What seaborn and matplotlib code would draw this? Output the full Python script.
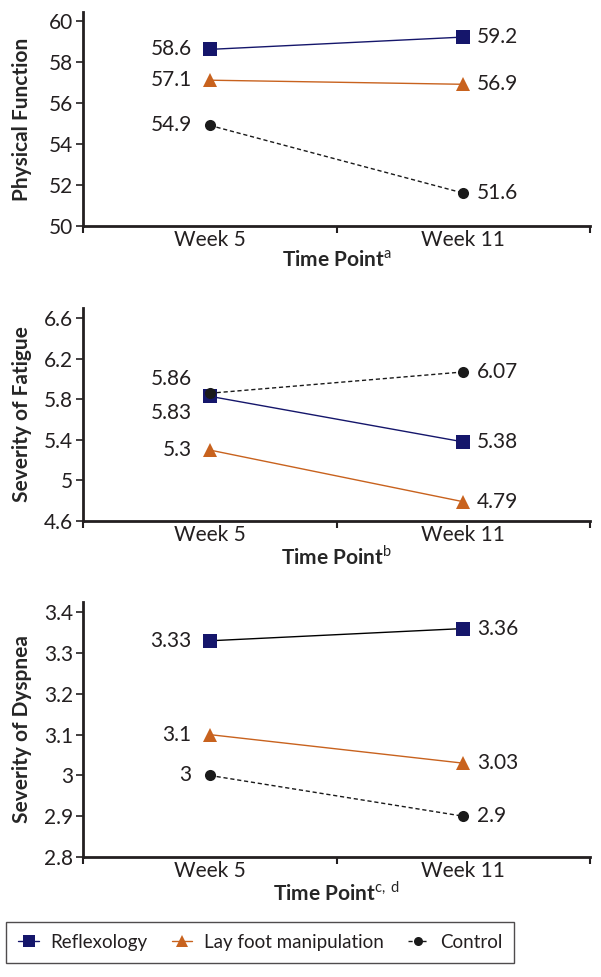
import matplotlib
matplotlib.use("Agg")
import matplotlib.pyplot as plt
import pandas as pd
import seaborn as sns

# data
time_points = ["Week 5", "Week 11"]
groups = ["Reflexology", "Lay foot manipulation", "Control"]

physical_reflex = [58.6, 59.2]
physical_lay = [57.1, 56.9]
physical_ctrl = [54.9, 51.6]

fatigue_reflex = [5.83, 5.38]
fatigue_lay = [5.3, 4.79]
fatigue_ctrl = [5.86, 6.07]

dyspnea_reflex = [3.33, 3.36]
dyspnea_lay = [3.1, 3.03]
dyspnea_ctrl = [3.0, 2.9]

physical_ticks = [50, 52, 54, 56, 58, 60]
physical_ticklabels = ["50", "52", "54", "56", "58", "60"]
fatigue_ticks = [4.6, 5.0, 5.4, 5.8, 6.2, 6.6]
fatigue_ticklabels = ["4.6", "5", "5.4", "5.8", "6.2", "6.6"]
dyspnea_ticks = [2.8, 2.9, 3.0, 3.1, 3.2, 3.3, 3.4]
dyspnea_ticklabels = ["2.8", "2.9", "3", "3.1", "3.2", "3.3", "3.4"]

NAVY = "#15166b"
ORANGE = "#c8621e"
INK = "#231f20"

sns.set_style("white")
plt.rcParams["font.family"] = ["Lato", "DejaVu Sans"]
plt.rcParams["mathtext.fontset"] = "custom"
plt.rcParams["mathtext.rm"] = "Lato"
plt.rcParams["mathtext.bf"] = "Lato:bold"
plt.rcParams["text.color"] = INK


def make_frame(reflex, lay, ctrl):
    rows = []
    for name, vals in zip(groups, [reflex, lay, ctrl]):
        for tp, v in zip(time_points, vals):
            rows.append({"time": tp, "group": name, "value": v})
    df = pd.DataFrame(rows)
    df["x"] = df["time"].map({t: i for i, t in enumerate(time_points)})
    return df


palette = {"Reflexology": NAVY, "Lay foot manipulation": ORANGE, "Control": "#1a1a1a"}
markers = {"Reflexology": "s", "Lay foot manipulation": "^", "Control": "o"}
msizes = {"Reflexology": 9.5, "Lay foot manipulation": 10, "Control": 8}
dashes = {"Reflexology": "", "Lay foot manipulation": "", "Control": (3, 2)}

fig = plt.figure(figsize=(6.01, 9.77), dpi=100)
ax1 = fig.add_axes([0.138, 0.7687, 0.844, 0.219])
ax2 = fig.add_axes([0.138, 0.4667, 0.844, 0.218])
ax3 = fig.add_axes([0.138, 0.1228, 0.844, 0.261])

panels = [
    (ax1, make_frame(physical_reflex, physical_lay, physical_ctrl), "Physical Function",
     "Time Point$^{\\mathrm{a}}$", (50, 60.42), physical_ticks, physical_ticklabels),
    (ax2, make_frame(fatigue_reflex, fatigue_lay, fatigue_ctrl), "Severity of Fatigue",
     "Time Point$^{\\mathrm{b}}$", (4.6, 6.7), fatigue_ticks, fatigue_ticklabels),
    (ax3, make_frame(dyspnea_reflex, dyspnea_lay, dyspnea_ctrl), "Severity of Dyspnea",
     "Time Point$^{\\mathrm{c,\\,d}}$", (2.8, 3.425), dyspnea_ticks, dyspnea_ticklabels),
]

# label offsets in points (dx, dy); fatigue week 5 labels are nudged apart
offsets = {
    ("Severity of Fatigue", "Control", 0): (0, 10),
    ("Severity of Fatigue", "Reflexology", 0): (0, -12),
}

for ax, df, ylab, xlab, ylim, ticks, ticklabels in panels:
    sns.lineplot(data=df, x="x", y="value", hue="group", style="group",
                 hue_order=groups, style_order=groups, palette=palette,
                 markers=markers, dashes=dashes, linewidth=1.0,
                 markeredgewidth=0, ax=ax, legend=False)
    for line, g in zip(ax.lines, groups):
        line.set_markersize(msizes[g])
    for g in groups:
        sub = df[df["group"] == g]
        for _, r in sub.iterrows():
            dx, dy = offsets.get((ylab, g, r["x"]), (0, 0))
            if r["x"] == 0:
                ax.annotate(f"{r['value']:g}", (r["x"], r["value"]), xytext=(-13 + dx, dy),
                            textcoords="offset points", ha="right", va="center", fontsize=15)
            else:
                ax.annotate(f"{r['value']:g}", (r["x"], r["value"]), xytext=(10 + dx, dy),
                            textcoords="offset points", ha="left", va="center", fontsize=15)
    ax.set_xlim(-0.5, 1.5)
    ax.set_ylim(*ylim)
    ax.set_yticks(ticks)
    ax.set_yticklabels(ticklabels, fontsize=15)
    ax.set_xticks([0, 1])
    ax.set_xticklabels(time_points, fontsize=15)
    ax.set_xticks([-0.5, 0.5, 1.5], minor=True)
    ax.tick_params(axis="x", which="major", length=0, pad=3, colors=INK)
    ax.tick_params(axis="x", which="minor", bottom=True, length=5, width=1.5, color=INK)
    ax.tick_params(axis="y", left=True, length=5, width=1.2, color=INK, pad=2, labelcolor=INK)
    ax.set_xlabel(xlab, fontsize=15, fontweight="bold", labelpad=0)
    ax.set_ylabel(ylab, fontsize=15, fontweight="bold")
    ax.yaxis.set_label_coords(-0.1, 0.5)
    sns.despine(ax=ax)
    for s in ["left", "bottom"]:
        ax.spines[s].set_linewidth(2.0)
        ax.spines[s].set_color(INK)

# in the dyspnea panel the reflexology line is drawn in black
ax3.lines[0].set_color("black")
ax3.lines[0].set_markerfacecolor(NAVY)
ax3.lines[0].set_markeredgecolor(NAVY)

handles = []
for g in groups:
    h, = ax1.plot([], [], color=palette[g], marker=markers[g], markersize=msizes[g] - 1.5,
                  markeredgewidth=0, linewidth=1.0,
                  linestyle="--" if g == "Control" else "-",
                  dashes=(3, 2) if g == "Control" else (None, None))
    handles.append(h)
leg = fig.legend(handles, groups, loc="center", bbox_to_anchor=(0.433, 0.0355), ncol=3,
                 fontsize=13.5, frameon=True, fancybox=False, handlelength=1.1,
                 columnspacing=1.3, handletextpad=0.6, borderpad=0.65)
leg.get_frame().set_edgecolor(INK)
leg.get_frame().set_linewidth(1.0)

fig.savefig("out.png", dpi=100)
